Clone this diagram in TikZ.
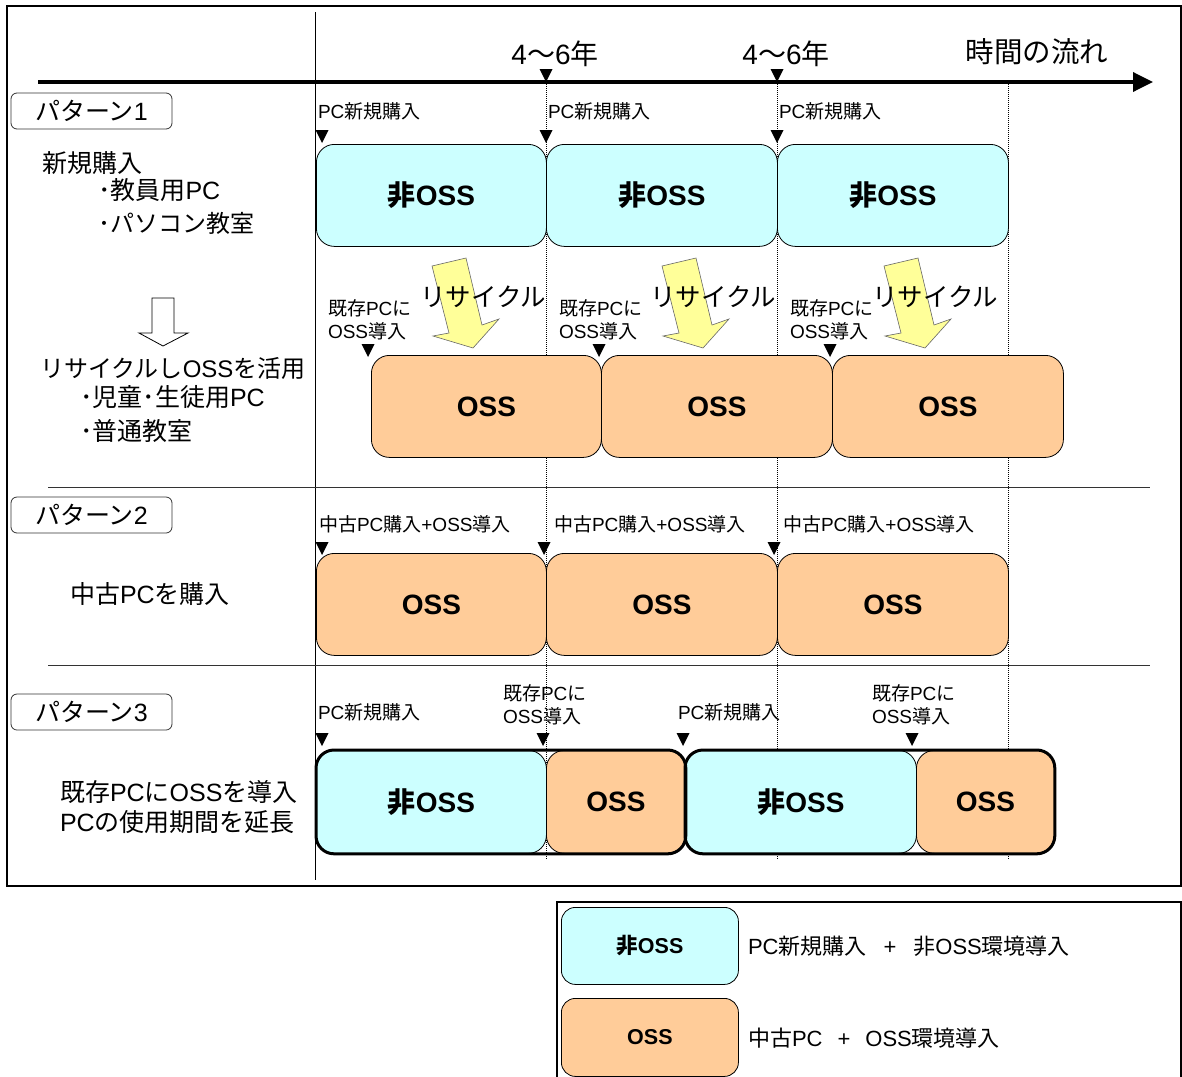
\documentclass[tikz,border=0pt]{standalone}
\usepackage{fontspec}
\setmainfont{Liberation Sans}
\newfontfamily\cjkf{Noto Sans CJK JP}
\newfontfamily\latf{Liberation Sans}
\newXeTeXintercharclass\cjkclass
\newcount\cccnt
\cccnt="3000 \loop \XeTeXcharclass\cccnt=\cjkclass \advance\cccnt 1 \ifnum\cccnt<"A000 \repeat
\cccnt="FF00 \loop \XeTeXcharclass\cccnt=\cjkclass \advance\cccnt 1 \ifnum\cccnt<"FFF0 \repeat
\XeTeXinterchartoks 0 \cjkclass = {\cjkf}
\XeTeXinterchartoks 4095 \cjkclass = {\cjkf}
\XeTeXinterchartoks \cjkclass 0 = {\latf}
\XeTeXinterchartoks 4095 0 = {\latf}
\XeTeXinterchartokenstate=1
\usetikzlibrary{arrows.meta}
\definecolor{noss}{HTML}{CCFFFF}
\definecolor{ossc}{HTML}{FFCC99}
\definecolor{recyc}{HTML}{FFFF99}
\newcommand\fsz[1]{\fontsize{#1}{#1}\selectfont}
\newcommand\tridown[2]{\fill (#1-6.5,#2-13) -- (#1+6.5,#2-13) -- (#1,#2) -- cycle;}
\newcommand\recyarrow[2]{%
  \begin{scope}[xshift=#1pt]
  \draw[fill=recyc, draw=black!60, line width=0.6pt] (432,266) -- (466,258) -- (482,325) -- (499,319) -- (473,348) -- (433,336) -- (449,333) -- cycle;
  \end{scope}
  \node[txt, anchor=west, font=\fsz{25.5}] (#2) at (420+#1,297) {リサイクル};}
\begin{document}
\begin{tikzpicture}[x=1pt,y=-1pt,
  box/.style={draw=black, line width=0.8pt, rounded corners=18pt, inner sep=0pt, anchor=north west, font=\fsz{28}\bfseries},
  nonoss/.style={box, fill=noss},
  ossbox/.style={box, fill=ossc},
  txt/.style={inner sep=0pt, outer sep=0pt},
  small/.style={txt, anchor=west, font=\fsz{19}},
  twol/.style={txt, anchor=west, align=left, font=\fsz{19}, execute at begin node=\setlength{\baselineskip}{23pt}},
  left/.style={txt, anchor=west, font=\fsz{25}},
  leftk/.style={txt, anchor=west, font=\fsz{24}},
  patbox/.style={draw=black!80, line width=0.8pt, rounded corners=6pt, minimum width=161pt, minimum height=36pt, inner sep=0pt, font=\fsz{25}},
  dotline/.style={densely dotted, line width=1pt},
  sep/.style={line width=1pt, draw=black!80}
]
\useasboundingbox (0,0) rectangle (1182,1076);
\fill[white] (0,0) rectangle (1182,1076);

% outer frame
\draw[line width=2pt] (7,6) rectangle (1181,886);

% vertical solid line and separators
\coordinate (vtop) at (315,12);
\coordinate (vbot) at (315,880);
\draw[line width=1pt] (vtop) -- (vbot);
\coordinate (s1a) at (48,487); \coordinate (s1b) at (1150,487);
\coordinate (s2a) at (48,665); \coordinate (s2b) at (1150,665);
\draw[sep] (s1a) -- (s1b);
\draw[sep] (s2a) -- (s2b);

% dotted lines
\foreach \xx/\nm in {546/d1,777/d2,1008/d3}{
  \coordinate (\nm t) at (\xx,82);
  \coordinate (\nm b) at (\xx,860);
  \draw[dotline] (\nm t) -- (\nm b);
}

% time axis
\coordinate (axA) at (38,82);
\coordinate (axB) at (1153,82);
\draw[line width=3.5pt, -{Triangle[length=20pt,width=19pt]}] (axA) -- (axB);
\tridown{546}{82}
\tridown{777}{82}
\node[txt, font=\fsz{28}] (y1) at (555,54) {4～6年};
\node[txt, font=\fsz{28}] (y2) at (786,54) {4～6年};
\node[txt, font=\fsz{28.5}] (flow) at (1037,52) {時間の流れ};

% pattern labels
\node[patbox] (pat1) at (91.5,111) {パターン1};
\node[patbox] (pat2) at (91.5,515) {パターン2};
\node[patbox] (pat3) at (91.5,712) {パターン3};

% left descriptions
\node[left] (l1a) at (42,163) {新規購入};
\node[left] (l1b) at (98,190) {･教員用PC};
\node[leftk] (l1c) at (98,223) {･パソコン教室};
\draw[fill=white, line width=0.8pt] (152,298) -- (174,298) -- (174,333) -- (188,333) -- (163,346) -- (139,333) -- (152,333) -- cycle;
\node[leftk] (l1d) at (40,368) {リサイクルしOSSを活用};
\node[left] (l1e) at (80,397) {･児童･生徒用PC};
\node[left] (l1f) at (80,431) {･普通教室};
\node[left] (l2a) at (70,594) {中古PCを購入};
\node[left] (l3a) at (60,792) {既存PCにOSSを導入};
\node[left] (l3b) at (60,822) {PCの使用期間を延長};

% pattern 1 top row
\node[small] (p1t1) at (318,111) {PC新規購入};
\node[small] (p1t2) at (548,111) {PC新規購入};
\node[small] (p1t3) at (779,111) {PC新規購入};
\tridown{322}{143}
\tridown{546}{143}
\tridown{777}{143}
\node[nonoss, minimum width=230pt, minimum height=102pt] (p1a) at (316,144) {非OSS};
\node[nonoss, minimum width=231pt, minimum height=102pt] (p1b) at (546,144) {非OSS};
\node[nonoss, minimum width=231pt, minimum height=102pt] (p1c) at (777,144) {非OSS};

% recycle arrows
\recyarrow{0}{r1}
\recyarrow{230}{r2}
\recyarrow{452}{r3}

% pattern 1 OSS row
\node[twol] (p1o1) at (328,319.5) {既存PCに\\OSS導入};
\node[twol] (p1o2) at (559,319.5) {既存PCに\\OSS導入};
\node[twol] (p1o3) at (790,319.5) {既存PCに\\OSS導入};
\tridown{368}{357}
\tridown{599}{357}
\tridown{830}{357}
\node[ossbox, minimum width=230pt, minimum height=102pt] (p1d) at (371,355) {OSS};
\node[ossbox, minimum width=231pt, minimum height=102pt] (p1e) at (601,355) {OSS};
\node[ossbox, minimum width=231pt, minimum height=102pt] (p1f) at (832,355) {OSS};

% pattern 2
\node[small] (p2t1) at (319,524) {中古PC購入+OSS導入};
\node[small] (p2t2) at (554,524) {中古PC購入+OSS導入};
\node[small] (p2t3) at (783,524) {中古PC購入+OSS導入};
\tridown{322}{555}
\tridown{544}{555}
\tridown{774}{555}
\node[ossbox, minimum width=230pt, minimum height=102pt] (p2a) at (316,553) {OSS};
\node[ossbox, minimum width=231pt, minimum height=102pt] (p2b) at (546,553) {OSS};
\node[ossbox, minimum width=231pt, minimum height=102pt] (p2c) at (777,553) {OSS};

% pattern 3
\node[small] (p3t1) at (318,712) {PC新規購入};
\node[twol] (p3t2) at (503,704.5) {既存PCに\\OSS導入};
\node[small] (p3t3) at (678,712) {PC新規購入};
\node[twol] (p3t4) at (872,704.5) {既存PCに\\OSS導入};
\tridown{322}{746}
\tridown{543}{746}
\tridown{683}{746}
\tridown{912}{746}
\node[nonoss, minimum width=230pt, minimum height=103pt] (p3a) at (316,750) {非OSS};
\node[ossbox, minimum width=139pt, minimum height=103pt] (p3b) at (546,750) {OSS};
\node[nonoss, minimum width=231pt, minimum height=103pt] (p3c) at (685,750) {非OSS};
\node[ossbox, minimum width=138pt, minimum height=103pt] (p3d) at (916,750) {OSS};
\draw[line width=3pt, rounded corners=18pt] (p3a.north west) rectangle (p3b.south east);
\draw[line width=3pt, rounded corners=18pt] (p3c.north west) rectangle (p3d.south east);

% legend
\draw[line width=2pt] (557,902) rectangle (1181,1095);
\node[nonoss, rounded corners=14pt, minimum width=177pt, minimum height=77pt, font=\fsz{21.5}\bfseries] (lg1) at (561,907) {非OSS};
\node[ossbox, rounded corners=14pt, minimum width=177pt, minimum height=78pt, font=\fsz{21.5}\bfseries] (lg2) at (561,998) {OSS};
\node[txt, anchor=west, font=\fsz{22}] (lgt1) at (748,946) {PC新規購入\hspace{17pt}+\hspace{17pt}非OSS環境導入};
\node[txt, anchor=west, font=\fsz{22}] (lgt2) at (748,1038) {中古PC\hspace{15pt}+\hspace{15pt}OSS環境導入};
\end{tikzpicture}
\end{document}
